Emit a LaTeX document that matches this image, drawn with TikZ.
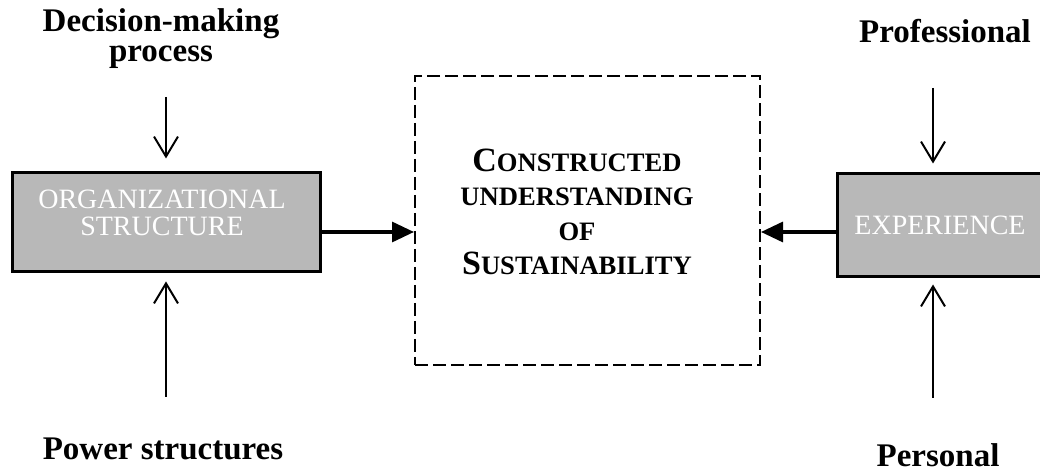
\documentclass[tikz,border=0pt]{standalone}
\usepackage{fontspec}
\setmainfont{Liberation Serif}
\usetikzlibrary{arrows.meta}
% hand-made small capitals: a full-size initial, the rest in smaller capitals
\newcommand{\smallcapsword}[2]{{\fontsize{17}{17.3}\selectfont #1}{\fontsize{13.3}{17.3}\selectfont #2}}
\begin{document}
\begin{tikzpicture}[x=0.5pt,y=-0.5pt,
  graybox/.style={draw=black, line width=1.5pt, fill=black!28, inner sep=0pt},
  boxtext/.style={text=white, font=\fontsize{14}{13.5}\selectfont, align=center, inner sep=0pt},
  factor/.style={font=\fontsize{16.5}{15}\selectfont\bfseries, align=center, anchor=base},
  dashbox/.style={draw=black, line width=1pt, dash pattern=on 6.5pt off 2.5pt,
    minimum width=172.5pt, minimum height=144.5pt, inner sep=0pt},
  coretext/.style={font=\fontsize{13.3}{17.3}\selectfont\bfseries, align=center, anchor=base},
  varrow/.style={line width=1pt, -{Straight Barb[length=10pt,width=12pt]}},
  harrow/.style={line width=1.6pt, -{Triangle[length=11pt,width=10pt]}}]
\useasboundingbox (0,0) rectangle (1040,475);

% central concept (base anchor sits on the last line)
\node[dashbox] (csu) at (587.5,220.5) {};
\node[coretext] (csutext) at (577,275)
  {\smallcapsword{C}{ONSTRUCTED}\\UNDERSTANDING\\OF\\\smallcapsword{S}{USTAINABILITY}};

% the two shaping boxes
\node[graybox, minimum width=154pt, minimum height=49.5pt] (org) at (166,222.5) {};
\node[boxtext] (orgtext) at (162,213) {ORGANIZATIONAL\\STRUCTURE};
\node[graybox, minimum width=104.5pt, minimum height=51.5pt] (exp) at (941.5,225.5) {};
\node[boxtext] (exptext) at (940,225) {EXPERIENCE};

% outer factors
\node[factor] (dm) at (161,62) {Decision-making\\process};
\node[factor] (pow) at (163,460) {Power structures};
\node[factor] (prof) at (945,43) {Professional};
\node[factor] (pers) at (938,467) {Personal};

% arrow tails and the level of the horizontal arrows
\coordinate (dmTail) at (166,97);
\coordinate (powTail) at (166,397);
\coordinate (profTail) at (933,88);
\coordinate (persTail) at (933,398);
\coordinate (mid) at (0,232);

\draw[varrow, shorten >=6.5pt] (dmTail) -- (org.north);
\draw[varrow, shorten >=4pt] (powTail) -- (org.south);
\draw[varrow, shorten >=4.5pt] (profTail) -- (profTail |- exp.north);
\draw[varrow, shorten >=3pt] (persTail) -- (persTail |- exp.south);

\draw[harrow] (org.east |- mid) -- (csu.west |- mid);
\draw[harrow] (exp.west |- mid) -- (csu.east |- mid);
\end{tikzpicture}
\end{document}
